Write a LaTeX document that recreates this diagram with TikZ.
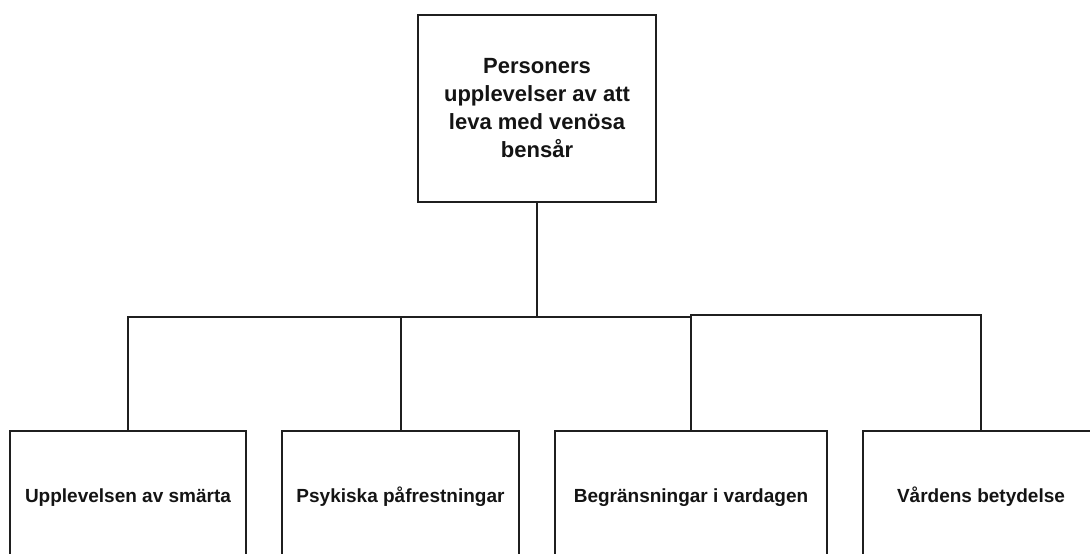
\documentclass[tikz,border=0pt]{standalone}
\usepackage{fontspec}
\setmainfont{Liberation Sans}
\usetikzlibrary{positioning}

\tikzset{
	box/.style={draw=black!88, line width=2pt, align=center, inner sep=0pt, text=black!92},
	topbox/.style={box, minimum width=238pt, minimum height=187pt, font=\bfseries\fontsize{22}{28}\selectfont},
	subbox/.style={box, minimum height=132pt, anchor=north, text height=14pt, text depth=4pt, font=\bfseries\fontsize{19}{23}\selectfont},
	conn/.style={draw=black!88, line width=2pt}
}

\begin{document}
\begin{tikzpicture}[x=1pt,y=-1pt]
		\useasboundingbox (0,0) rectangle (1090,554);
		\clip (0,0) rectangle (1090,554);
		% main theme
		\node[topbox] (tema) at (537,108.5) {Personers\\upplevelser av att\\leva med venösa\\bensår};
		% sub themes
		\node[subbox, minimum width=236pt] (smarta) at (128,430) {Upplevelsen av smärta};
		\node[subbox, minimum width=237pt] (psyk) at (400.5,430) {Psykiska påfrestningar};
		\node[subbox, minimum width=272pt] (vardag) at (691,430) {Begränsningar i vardagen};
		\node[subbox, minimum width=236pt] (vard) at (981,430) {Vårdens betydelse};
		% connectors
		\coordinate (bus) at (537,316.7);
		\coordinate (bus2) at (691,315.3);
		\draw[conn] (tema.south) -- (bus);
		\draw[conn] (smarta.north) |- (vardag.north |- bus);
		\draw[conn] (psyk.north) -- (psyk.north |- bus);
		\draw[conn] (vardag.north) -- (bus2) -| (vard.north);
	\end{tikzpicture}
\end{document}
